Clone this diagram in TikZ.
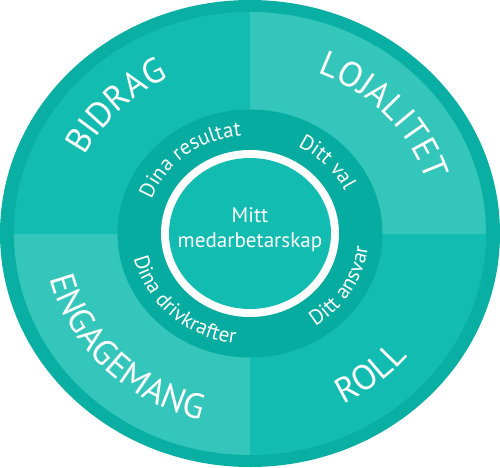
\documentclass[tikz,border=0pt]{standalone}
\usepackage{fontspec}
\setmainfont{PT Sans}
\usetikzlibrary{decorations.text}

\definecolor{rimteal}{HTML}{0AAFA3}
\definecolor{darkquad}{HTML}{12BCB1}
\definecolor{lightquad}{HTML}{34C6BB}
\definecolor{ringteal}{HTML}{07ACA0}

\newcommand{\bigfont}{\fontsize{20}{23}\selectfont}
\newcommand{\ringfont}{\fontsize{12}{14}\selectfont}

\begin{document}
\begin{tikzpicture}[x=0.02cm, y=0.02cm,
        arctext/.style={decorate, decoration={text along path, text align=center, text color=white, text={#1}}},
        midtext/.style={align=center, text=white, font=\fontsize{12}{14}\selectfont}
    ]
    \useasboundingbox (-250,-233.5) rectangle (250,233.5);
    % Outer rim
    \fill[rimteal] (0,0) ellipse[x radius=250, y radius=233.5];
    % Quadrants
    \begin{scope}
        \clip (0,0) ellipse[x radius=236, y radius=221.5];
        \fill[darkquad] (-250,0) rectangle (0,240);
        \fill[lightquad] (0,0) rectangle (250,240);
        \fill[lightquad] (-250,-240) rectangle (0,0);
        \fill[darkquad] (0,-240) rectangle (250,0);
    \end{scope}
    % Inner ring
    \fill[ringteal] (0,0) ellipse[x radius=132.5, y radius=124];
    \fill[white] (0,0) ellipse[x radius=89, y radius=83.5];
    \fill[darkquad] (0,0) ellipse[x radius=81, y radius=75.5];
    \node[midtext] (mitt) at (0,4) {Mitt\\medarbetarskap};
    % Outer labels
    \path[arctext={|\bigfont|BIDRAG}] (196:185 and 173) arc[start angle=196, end angle=76, x radius=185, y radius=173];
    \path[arctext={|\bigfont|LOJALITET}] (102:185 and 173) arc[start angle=102, end angle=-18, x radius=185, y radius=173];
    \path[arctext={|\bigfont|ENGAGEMANG}] (164:205.5 and 192) arc[start angle=164, end angle=284, x radius=205.5, y radius=192];
    \path[arctext={|\bigfont|ROLL}] (250:205.5 and 192) arc[start angle=250, end angle=370, x radius=205.5, y radius=192];
    % Ring labels
    \path[arctext={|\ringfont|Dina resultat}] (188:105 and 98) arc[start angle=188, end angle=68, x radius=105, y radius=98];
    \path[arctext={|\ringfont|Ditt val}] (103:105 and 98) arc[start angle=103, end angle=-17, x radius=105, y radius=98];
    \path[arctext={|\ringfont|Ditt ansvar}] (269:119 and 111) arc[start angle=269, end angle=389, x radius=119, y radius=111];
    \path[arctext={|\ringfont|Dina drivkrafter}] (167:119 and 111) arc[start angle=167, end angle=287, x radius=119, y radius=111];
\end{tikzpicture}
\end{document}
